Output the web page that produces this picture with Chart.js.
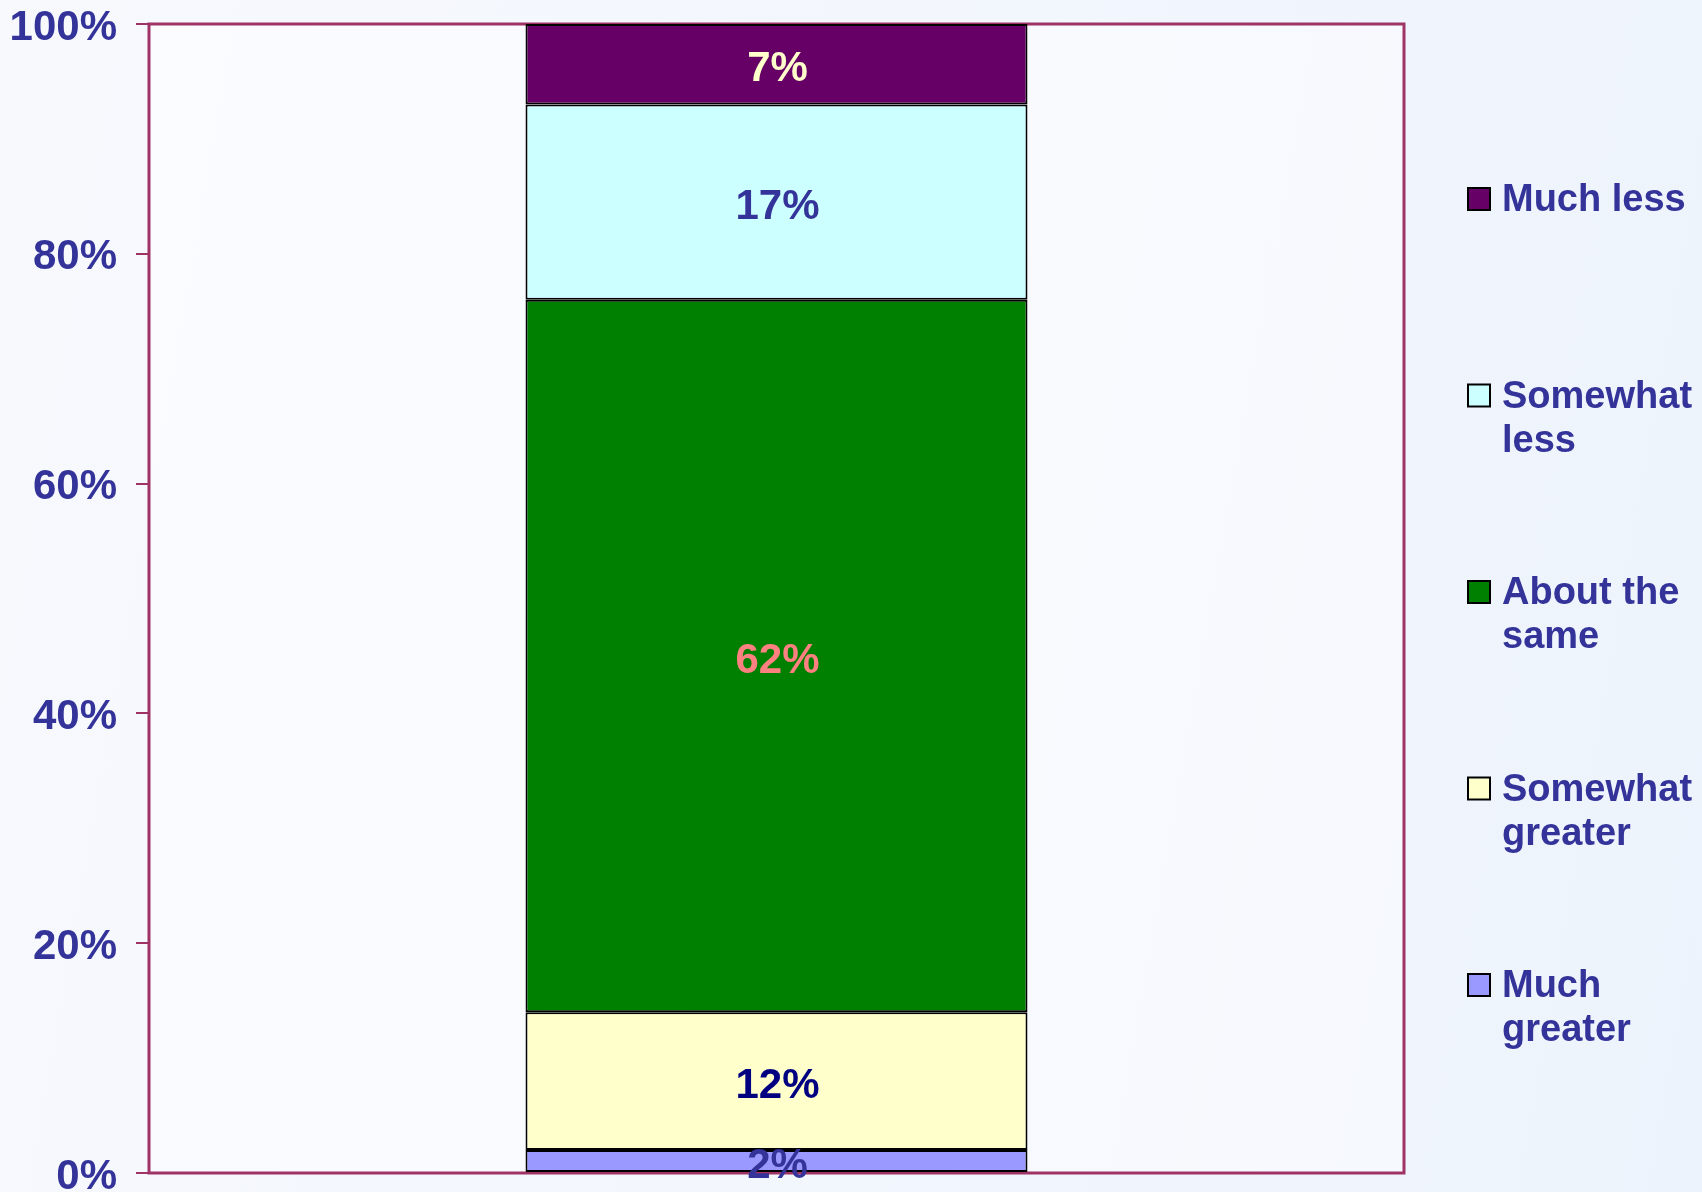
<!DOCTYPE html>
<html>
<head>
<meta charset="utf-8">
<title>Change in level</title>
<script src="https://cdn.jsdelivr.net/npm/chart.js@4.4.0/dist/chart.umd.min.js"></script>
<style>
  html, body { margin: 0; padding: 0; }
  body {
    width: 1702px; height: 1192px; overflow: hidden;
    background: linear-gradient(100deg, #f7f9fd 0%, #f2f6fd 55%, #edf3fc 100%);
    font-family: "Liberation Sans", Arial, sans-serif;
  }
  #wrap { position: relative; width: 1702px; height: 1192px; }
</style>
</head>
<body>
<div id="wrap"><canvas id="chart" width="1702" height="1192"></canvas></div>
<script>
// Stacked from the bottom up
const categories = ['Much greater', 'Somewhat greater', 'About the same', 'Somewhat less', 'Much less'];
const values = [2, 12, 62, 17, 7];
const fillColors = ['#9999ff', '#ffffcc', '#008000', '#ccffff', '#660066'];
const labelColors = ['#333399', '#000080', '#ff8080', '#333399', '#ffffcc'];
const yTicks = [0, 20, 40, 60, 80, 100];

const TEXT_BLUE = '#333399';
const FRAME = '#a03366';

// Plot background + outer frame
const framePlugin = {
  id: 'frame',
  beforeDatasetsDraw(chart) {
    const { ctx, chartArea: a } = chart;
    ctx.save();
    ctx.fillStyle = 'rgba(255,255,255,0.45)';
    ctx.fillRect(a.left, a.top, a.right - a.left, a.bottom - a.top);
    ctx.strokeStyle = FRAME;
    ctx.lineWidth = 3;
    ctx.strokeRect(a.left, a.top, a.right - a.left, a.bottom - a.top);
    ctx.restore();
  }
};

// Percent labels in the middle of each segment
const valueLabels = {
  id: 'valueLabels',
  afterDatasetsDraw(chart) {
    const { ctx } = chart;
    ctx.save();
    ctx.font = 'bold 42px "Liberation Sans", Arial, sans-serif';
    ctx.textAlign = 'center';
    ctx.textBaseline = 'middle';
    chart.data.datasets.forEach((ds, i) => {
      const bar = chart.getDatasetMeta(i).data[0];
      if (!bar) return;
      ctx.fillStyle = labelColors[i];
      ctx.fillText(ds.data[0] + '%', bar.x + 1, (bar.y + bar.base) / 2 + 5);
    });
    ctx.restore();
  }
};

// Legend on the right, top entry = top segment, long names wrapped
const sideLegend = {
  id: 'sideLegend',
  afterDraw(chart) {
    const { ctx } = chart;
    const boxX = 1468, textX = 1502, maxW = 198;
    const firstY = 199, step = 196.5, lineH = 44;
    ctx.save();
    ctx.font = 'bold 38px "Liberation Sans", Arial, sans-serif';
    ctx.textBaseline = 'middle';
    const sets = chart.data.datasets.slice().reverse();
    sets.forEach((ds, k) => {
      const y = firstY + k * step;
      ctx.fillStyle = ds.backgroundColor;
      ctx.fillRect(boxX, y - 11, 22, 22);
      ctx.strokeStyle = '#000';
      ctx.lineWidth = 2;
      ctx.strokeRect(boxX, y - 11, 22, 22);
      // word wrap
      const lines = [];
      let cur = '';
      ds.label.split(' ').forEach(w => {
        const t = cur ? cur + ' ' + w : w;
        if (cur && ctx.measureText(t).width > maxW) { lines.push(cur); cur = w; }
        else cur = t;
      });
      lines.push(cur);
      ctx.fillStyle = TEXT_BLUE;
      lines.forEach((ln, j) => ctx.fillText(ln, textX, y + 2 + j * lineH));
    });
    ctx.restore();
  }
};

new Chart(document.getElementById('chart'), {
  type: 'bar',
  data: {
    labels: [''],
    datasets: categories.map((name, i) => ({
      label: name,
      data: [values[i]],
      backgroundColor: fillColors[i],
      borderColor: '#000',
      borderWidth: 2,
      borderSkipped: false,
      categoryPercentage: 1,
      barPercentage: 0.4
    }))
  },
  options: {
    responsive: false,
    animation: false,
    devicePixelRatio: 1,
    layout: { padding: { left: 0, right: 298, top: 24, bottom: 19 } },
    plugins: { legend: { display: false }, tooltip: { enabled: false } },
    scales: {
      x: { stacked: true, display: false },
      y: {
        stacked: true,
        min: 0,
        max: 100,
        afterBuildTicks(scale) { scale.ticks = yTicks.map(v => ({ value: v })); },
        afterFit(scale) {
          scale.width = 149;
          scale.paddingTop = 0;
          scale.paddingBottom = 0;
        },
        border: { display: false },
        grid: {
          drawOnChartArea: false,
          drawTicks: true,
          tickLength: 13,
          color: FRAME,
          lineWidth: 2
        },
        ticks: {
          padding: 19,
          labelOffset: 4,
          color: TEXT_BLUE,
          font: { family: '"Liberation Sans", Arial, sans-serif', size: 42, weight: 'bold' },
          callback: v => v + '%'
        }
      }
    }
  },
  plugins: [framePlugin, valueLabels, sideLegend]
});
</script>
</body>
</html>
